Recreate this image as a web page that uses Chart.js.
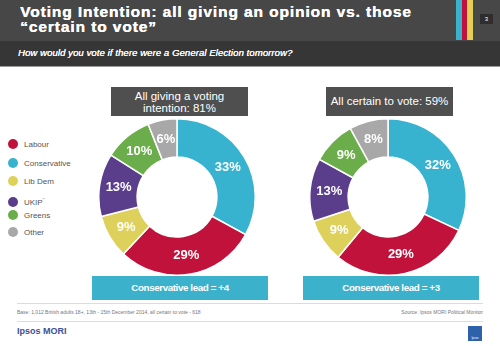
<!DOCTYPE html>
<html>
<head>
<meta charset="utf-8">
<script src="https://cdn.jsdelivr.net/npm/chart.js@4"></script>
<style>
  body { margin: 0; width: 500px; height: 346px; background: #fff; position: relative; overflow: hidden; font-family: "Liberation Sans", Arial, sans-serif; }
  .abs { position: absolute; }
  #head { left: 0; top: 0; width: 500px; height: 41px; background: #474747; }
  #sub { left: 0; top: 41px; width: 500px; height: 25px; background: #363636; border-bottom: 1px solid #9a9a9a; }
  #title { left: 20px; top: 4px; color: #fff; font-weight: bold; font-size: 15.5px; line-height: 15px; letter-spacing: 0.9px; text-shadow: 0.4px 0 0 #fff; }
  #subt { left: 18px; top: 47px; color: #fff; font-style: italic; font-size: 9.5px; letter-spacing: 0.1px; text-shadow: 0.2px 0 0 #fff; }
  .stripe { top: 0; height: 40px; width: 6px; }
  #pg { left: 480px; top: 14px; width: 13px; height: 10px; background: #2e2e2e; color: #fff; font-size: 6px; text-align: center; line-height: 10px; }
  .tbox { background: #4f4f4f; color: #fff; font-size: 11.5px; text-align: center; line-height: 12px; }
  .lead { background: #3bb1cb; color: #fff; font-weight: bold; font-size: 9.8px; text-align: center; line-height: 24px; height: 24px; width: 176px; top: 276px; letter-spacing: -0.4px; }
  .leg { left: 8px; font-size: 8px; color: #555; height: 12px; line-height: 12px; }
  .leg i { display: inline-block; width: 10px; height: 10px; border-radius: 50%; vertical-align: middle; margin-right: 6px; margin-top: -2px; }
  .rule { left: 17px; width: 466px; height: 1px; background: #dcdcdc; }
  .foot { font-size: 5px; color: #777; top: 309px; }
  canvas { position: absolute; }
</style>
</head>
<body>
<div id="head" class="abs"></div>
<div id="sub" class="abs"></div>
<div id="title" class="abs">Voting Intention: all giving an opinion vs. those<br>“certain to vote”</div>
<div id="subt" class="abs">How would you vote if there were a General Election tomorrow?</div>
<div class="abs stripe" style="left:456px;background:#3bb1cb"></div>
<div class="abs stripe" style="left:462px;background:#c1123b"></div>
<div class="abs stripe" style="left:467px;background:#e3cf55"></div>
<div id="pg" class="abs">3</div>

<div class="abs tbox" style="left:111px;top:87px;width:137px;height:29px;padding-top:3px;box-sizing:border-box;">All giving a voting<br>intention: 81%</div>
<div class="abs tbox" style="left:326px;top:87px;width:127px;height:29px;line-height:29px;">All certain to vote: 59%</div>

<div id="legend"></div>

<canvas id="leftChart" width="158" height="158" style="left:98px;top:118px"></canvas>
<canvas id="rightChart" width="158" height="158" style="left:309px;top:118px"></canvas>

<div class="abs lead" style="left:92px">Conservative lead = +4</div>
<div class="abs lead" style="left:303px">Conservative lead = +3</div>

<div class="abs rule" style="top:303px"></div>
<div class="abs foot" style="left:17px">Base: 1,012 British adults 18+, 13th - 15th December 2014, all certain to vote - 618</div>
<div class="abs foot" style="right:17px">Source: Ipsos MORI Political Monitor</div>
<div class="abs rule" style="top:321px"></div>
<div class="abs" style="left:17px;top:326px;color:#3d4f95;font-weight:bold;font-size:9px;">Ipsos MORI</div>
<div class="abs" style="left:468px;top:326px;width:14px;height:15px;background:#2d62aa;color:#fff;font-size:3px;line-height:24px;text-align:center;">Ipsos</div>

<script>
const parties = ['Conservative', 'Labour', 'Lib Dem', 'UKIP', 'Greens', 'Other'];
const allGiving = [33, 29, 9, 13, 10, 6];
const certainToVote = [32, 29, 9, 13, 9, 8];
const colours = ['#38b3cf', '#c1123b', '#ddd15b', '#5b3e8b', '#6aad4a', '#a8a8a8'];
const legendOrder = ['Labour', 'Conservative', 'Lib Dem', 'UKIP', 'Greens', 'Other'];

// legend on the left
const legendRows = [139, 158, 176, 194, 210, 227];
const legend = document.getElementById('legend');
legendOrder.forEach((name, i) => {
  const d = document.createElement('div');
  d.className = 'abs leg';
  d.style.top = legendRows[i] + 'px';
  const c = colours[parties.indexOf(name)];
  d.innerHTML = '<i style="background:' + c + '"></i>' + (name === 'UKIP' ? 'UKIP<sup style="font-size:4px">*</sup>' : name);
  legend.appendChild(d);
});

const pctLabels = {
  id: 'pctLabels',
  afterDatasetsDraw(chart) {
    const ctx = chart.ctx;
    const ds = chart.data.datasets[0];
    ctx.save();
    ctx.font = 'bold 13px "Liberation Sans", Arial, sans-serif';
    ctx.fillStyle = '#fff';
    ctx.textAlign = 'center';
    ctx.textBaseline = 'middle';
    chart.getDatasetMeta(0).data.forEach((arc, i) => {
      const p = arc.tooltipPosition();
      ctx.fillText(ds.data[i] + '%', p.x, p.y);
    });
    ctx.restore();
  }
};

function donut(id, values) {
  return new Chart(document.getElementById(id), {
    type: 'doughnut',
    data: {
      labels: parties,
      datasets: [{ data: values, backgroundColor: colours, borderColor: '#fff', borderWidth: 1.5 }]
    },
    options: {
      responsive: false,
      animation: false,
      cutout: '51%',
      layout: { padding: 0 },
      plugins: { legend: { display: false }, tooltip: { enabled: false } }
    },
    plugins: [pctLabels]
  });
}

const leftChart = donut('leftChart', allGiving);
const rightChart = donut('rightChart', certainToVote);
</script>
</body>
</html>
